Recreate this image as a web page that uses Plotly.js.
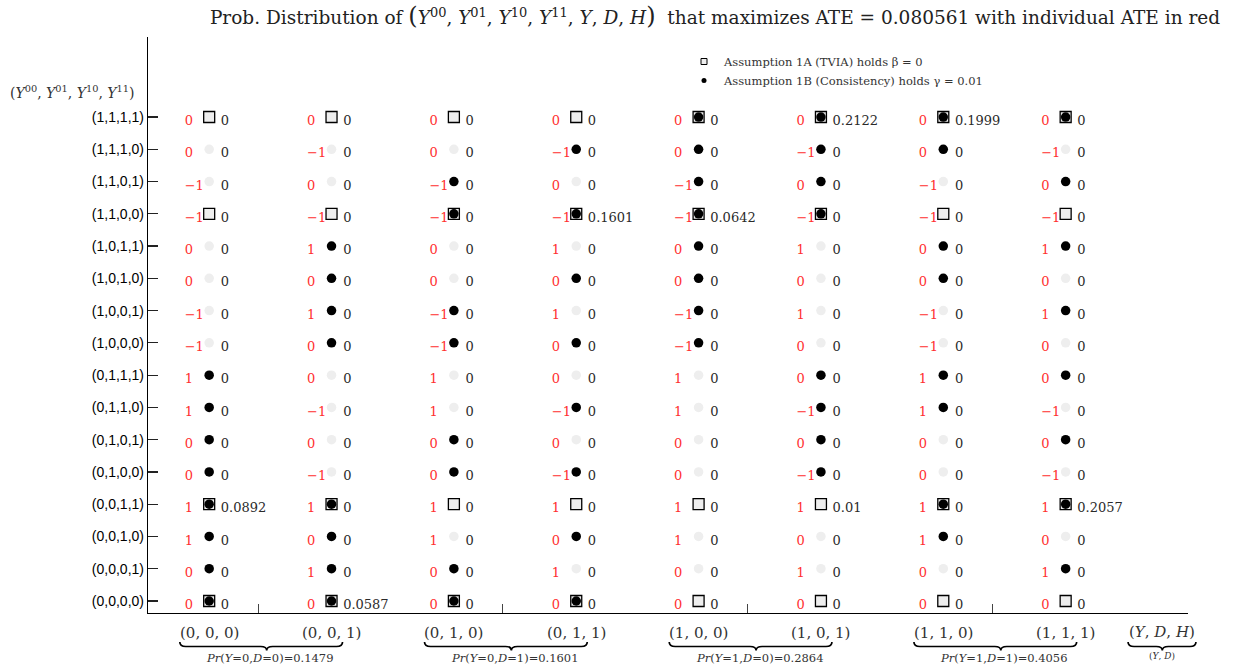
<!DOCTYPE html>
<html>
<head>
<meta charset="utf-8">
<script src="https://cdn.plot.ly/plotly-3.0.1.min.js"></script>
<style>html,body{margin:0;padding:0;background:#fff;}#chart{width:1234px;height:668px;}</style>
</head>
<body>
<div id="chart"></div>
<script>
// ---------- data (rows listed top to bottom) ----------
const rowLabels = ['(1,1,1,1)','(1,1,1,0)','(1,1,0,1)','(1,1,0,0)','(1,0,1,1)','(1,0,1,0)','(1,0,0,1)','(1,0,0,0)',
                   '(0,1,1,1)','(0,1,1,0)','(0,1,0,1)','(0,1,0,0)','(0,0,1,1)','(0,0,1,0)','(0,0,0,1)','(0,0,0,0)'];
const colLabels = ['(0, 0, 0)','(0, 0, 1)','(0, 1, 0)','(0, 1, 1)','(1, 0, 0)','(1, 0, 1)','(1, 1, 0)','(1, 1, 1)'];
const groupY = [0, 0, 1, 1];
const groupD = [0, 1, 0, 1];
const groupProbs = [0.1479, 0.1601, 0.2864, 0.4056];
const ateValue = 0.080561;
const betaValue = 0;
const gammaValue = 0.01;

// individual ATE (red numbers)
const ateMatrix = [
  [ 0, 0, 0, 0, 0, 0, 0, 0],
  [ 0,-1, 0,-1, 0,-1, 0,-1],
  [-1, 0,-1, 0,-1, 0,-1, 0],
  [-1,-1,-1,-1,-1,-1,-1,-1],
  [ 0, 1, 0, 1, 0, 1, 0, 1],
  [ 0, 0, 0, 0, 0, 0, 0, 0],
  [-1, 1,-1, 1,-1, 1,-1, 1],
  [-1, 0,-1, 0,-1, 0,-1, 0],
  [ 1, 0, 1, 0, 1, 0, 1, 0],
  [ 1,-1, 1,-1, 1,-1, 1,-1],
  [ 0, 0, 0, 0, 0, 0, 0, 0],
  [ 0,-1, 0,-1, 0,-1, 0,-1],
  [ 1, 1, 1, 1, 1, 1, 1, 1],
  [ 1, 0, 1, 0, 1, 0, 1, 0],
  [ 0, 1, 0, 1, 0, 1, 0, 1],
  [ 0, 0, 0, 0, 0, 0, 0, 0]
];
// consistency holds (black dot)
const consistent = [
  [0,0,0,0,1,1,1,1],
  [0,0,0,1,1,1,1,0],
  [0,0,1,0,1,1,0,1],
  [0,0,1,1,1,1,0,0],
  [0,1,0,0,1,0,1,1],
  [0,1,0,1,1,0,1,0],
  [0,1,1,0,1,0,0,1],
  [0,1,1,1,1,0,0,0],
  [1,0,0,0,0,1,1,1],
  [1,0,0,1,0,1,1,0],
  [1,0,1,0,0,1,0,1],
  [1,0,1,1,0,1,0,0],
  [1,1,0,0,0,0,1,1],
  [1,1,0,1,0,0,1,0],
  [1,1,1,0,0,0,0,1],
  [1,1,1,1,0,0,0,0]
];
// TVIA holds (square), per row
const tviaRows = [1,0,0,1,0,0,0,0,0,0,0,0,1,0,0,1];
// probabilities (black numbers)
const probMatrix = [
  [0,0,0,0,0,0.2122,0.1999,0],
  [0,0,0,0,0,0,0,0],
  [0,0,0,0,0,0,0,0],
  [0,0,0,0.1601,0.0642,0,0,0],
  [0,0,0,0,0,0,0,0],
  [0,0,0,0,0,0,0,0],
  [0,0,0,0,0,0,0,0],
  [0,0,0,0,0,0,0,0],
  [0,0,0,0,0,0,0,0],
  [0,0,0,0,0,0,0,0],
  [0,0,0,0,0,0,0,0],
  [0,0,0,0,0,0,0,0],
  [0.0892,0,0,0,0,0.01,0,0.2057],
  [0,0,0,0,0,0,0,0],
  [0,0,0,0,0,0,0,0],
  [0,0.0587,0,0,0,0,0,0]
];

// ---------- build traces ----------
const nR = rowLabels.length, nC = colLabels.length;
const sq = {x:[], y:[]}, blk = {x:[], y:[]}, gry = {x:[], y:[]};
const red = {x:[], y:[], t:[]}, prb = {x:[], y:[], t:[]};
const RED_DX = -0.2, PRB_DX = 0.095, TXT_DY = -0.15;
for (let r = 0; r < nR; r++) {
  const yv = nR - 1 - r;
  for (let c = 0; c < nC; c++) {
    if (tviaRows[r]) { sq.x.push(c); sq.y.push(yv); }
    if (consistent[r][c]) { blk.x.push(c); blk.y.push(yv); }
    else if (!tviaRows[r]) { gry.x.push(c); gry.y.push(yv); }
    red.x.push(c + RED_DX); red.y.push(yv + TXT_DY);
    red.t.push(String(ateMatrix[r][c]).replace('-', '\u2212'));
    prb.x.push(c + PRB_DX); prb.y.push(yv + TXT_DY);
    prb.t.push(String(probMatrix[r][c]));
  }
}

const serif = 'DejaVu Serif';
const traces = [
  {type:'scatter', mode:'markers', x:sq.x, y:sq.y, showlegend:false, hoverinfo:'skip',
   marker:{symbol:'square', size:11, color:'#eeeeee', line:{color:'#000', width:1.3}}},
  {type:'scatter', mode:'markers', x:gry.x, y:gry.y, showlegend:false, hoverinfo:'skip',
   marker:{symbol:'circle', size:9.5, color:'#eeeeee', line:{width:0}}},
  {type:'scatter', mode:'markers', x:blk.x, y:blk.y, showlegend:false, hoverinfo:'skip',
   marker:{symbol:'circle', size:9.5, color:'#000', line:{width:0}}},
  {type:'scatter', mode:'text', x:red.x, y:red.y, text:red.t, textposition:'middle right', showlegend:false,
   hoverinfo:'skip', cliponaxis:false, textfont:{family:serif, size:13, color:'#ff3030'}},
  {type:'scatter', mode:'text', x:prb.x, y:prb.y, text:prb.t, textposition:'middle right', showlegend:false,
   hoverinfo:'skip', cliponaxis:false, textfont:{family:serif, size:13, color:'#2a2a2a'}},
  {type:'scatter', mode:'markers', x:[null], y:[null], name:'Assumption 1A (TVIA) holds \u03b2 = ' + betaValue,
   marker:{symbol:'square', size:6, color:'#eeeeee', line:{color:'#000', width:1}}},
  {type:'scatter', mode:'markers', x:[null], y:[null], name:'Assumption 1B (Consistency) holds \u03b3 = ' + gammaValue,
   marker:{symbol:'circle', size:5, color:'#000'}}
];

// ---------- layout helpers ----------
const XMIN = -0.5, XMAX = 8.0;
const L = 148, R = 46, T = 37, B = 55, W = 1234, H = 668;
const PW = W - L - R, PH = H - T - B;
const xp = c => (c - XMIN) / (XMAX - XMIN);          // column -> paper x
const yp = dpx => -dpx / PH;                          // px below axis -> paper y

function brace(c0, c1, cm) {
  const x0 = xp(c0), x1 = xp(c1), xm = xp(cm), w = 6 / PW;
  const yTop = yp(29), yBar = yp(33.5), yTip = yp(37.5);
  return {type:'path', xref:'paper', yref:'paper', line:{color:'#000', width:1.7},
    path:`M${x0},${yTop} Q${x0},${yBar} ${x0+w},${yBar} L${xm-w},${yBar} Q${xm},${yBar} ${xm},${yTip} ` +
         `Q${xm},${yBar} ${xm+w},${yBar} L${x1-w},${yBar} Q${x1},${yBar} ${x1},${yTop}`};
}

const shapes = [];
const annotations = [];
for (let c = 0; c < nC; c++) {
  annotations.push({xref:'x', yref:'paper', x:c, y:yp(20), text:colLabels[c], showarrow:false,
    xanchor:'center', yanchor:'middle', font:{family:serif, size:15, color:'#333'}});
}
for (let g = 0; g < groupProbs.length; g++) {
  shapes.push(brace(2*g - 0.24, 2*g + 1 + 0.09, 2*g + 0.47));
  annotations.push({xref:'x', yref:'paper', x:2*g + 0.5, y:yp(45), showarrow:false, xanchor:'center', yanchor:'middle',
    text:`<i>Pr</i>(<i>Y</i>=${groupY[g]},<i>D</i>=${groupD[g]})=${groupProbs[g]}`,
    font:{family:serif, size:11.5, color:'#333'}});
}
shapes.push(brace(7.51, 8.065, 7.79));
annotations.push({xref:'x', yref:'paper', x:7.79, y:yp(19), showarrow:false, xanchor:'center', yanchor:'middle',
  text:'(<i>Y</i>, <i>D</i>, <i>H</i>)', font:{family:serif, size:15, color:'#333'}});
annotations.push({xref:'x', yref:'paper', x:7.79, y:yp(43), showarrow:false, xanchor:'center', yanchor:'middle',
  text:'(<i>Y</i>, <i>D</i>)', font:{family:serif, size:9, color:'#333'}});
// y-axis title
annotations.push({xref:'paper', yref:'paper', x:-11/PW, y:(PH - (92 - T)) / PH, showarrow:false,
  xanchor:'right', yanchor:'middle',
  text:'(<i>Y</i><sup>00</sup>, <i>Y</i><sup>01</sup>, <i>Y</i><sup>10</sup>, <i>Y</i><sup>11</sup>)',
  font:{family:serif, size:14, color:'#333'}});

const bigP = s => `<span style="font-size:24px">${s}</span>`;
const layout = {
  width: W, height: H,
  margin: {l:L, r:R, t:T, b:B},
  paper_bgcolor:'#fff', plot_bgcolor:'#fff',
  hovermode:false,
  title: {
    text: 'Prob. Distribution of ' + bigP('(') +
      '<i>Y</i><sup>00</sup>, <i>Y</i><sup>01</sup>, <i>Y</i><sup>10</sup>, <i>Y</i><sup>11</sup>, <i>Y</i>, <i>D</i>, <i>H</i>' +
      bigP(')') + '  that maximizes ATE = ' + ateValue + ' with individual ATE in red',
    font:{family:serif, size:18.5, color:'#222'},
    xref:'container', x:715/W, xanchor:'center', yref:'container', y:1 - 18/H, yanchor:'middle'
  },
  xaxis: {range:[XMIN, XMAX], showgrid:false, zeroline:false, showline:true, linecolor:'#000', linewidth:1.2,
    tickvals:[0.4, 2.4, 4.4, 6.4], showticklabels:false, ticks:'inside', ticklen:9, tickwidth:1, tickcolor:'#444',
    fixedrange:true},
  yaxis: {range:[-0.372, 17.48], showgrid:false, zeroline:false, showline:true, linecolor:'#000', linewidth:1.2,
    tickvals:rowLabels.map((_, i) => nR - 1 - i), ticktext:rowLabels, ticks:'inside', ticklen:10, tickwidth:1.2,
    tickcolor:'#222', tickfont:{family:'Liberation Sans', size:14, color:'#000'}, fixedrange:true},
  showlegend:true,
  legend: {x:(684 - L)/PW, xanchor:'left', y:(PH - (47 - T)) / PH, yanchor:'top', bgcolor:'rgba(0,0,0,0)',
    borderwidth:0, font:{family:serif, size:11.5, color:'#333'}, tracegroupgap:0},
  shapes: shapes,
  annotations: annotations
};

Plotly.newPlot('chart', traces, layout, {displayModeBar:false, staticPlot:true});
</script>
</body>
</html>
